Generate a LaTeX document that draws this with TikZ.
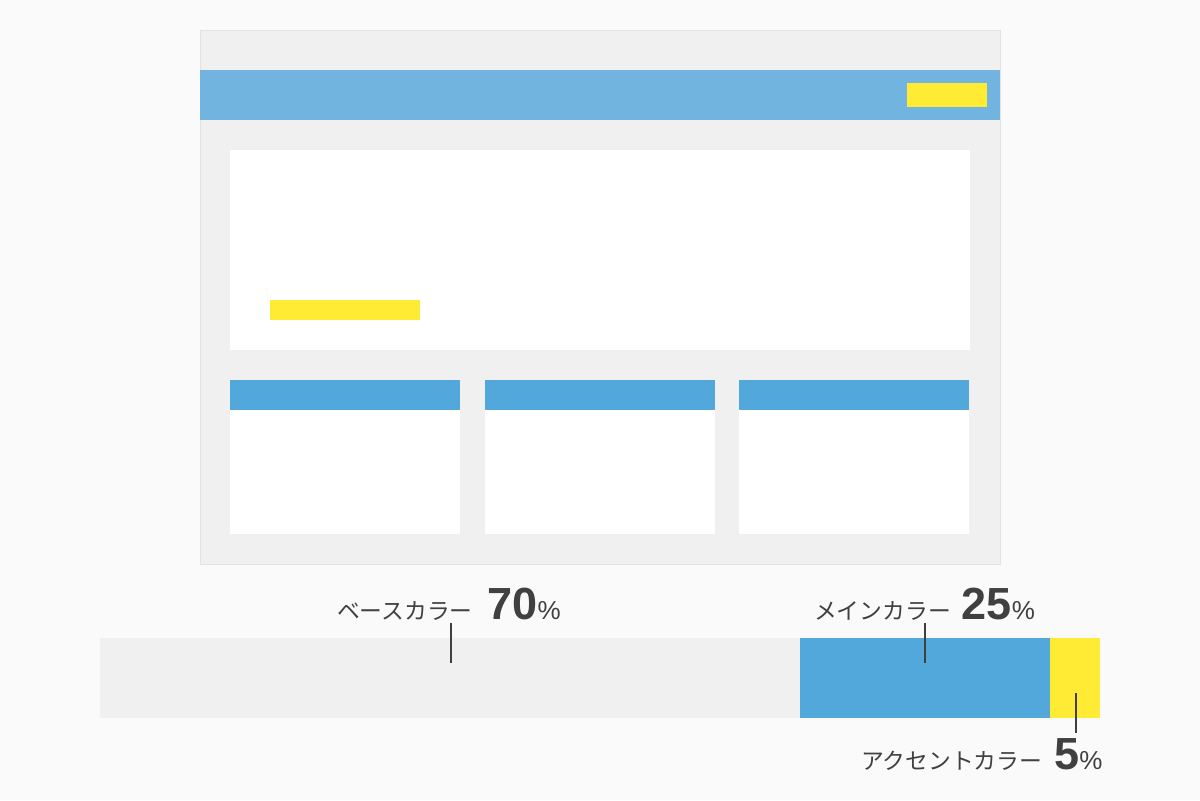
\documentclass[tikz,border=0pt]{standalone}
\usepackage{fontspec}
\newfontfamily\jp{Noto Sans CJK JP}
\newfontfamily\numf{Liberation Sans}
\definecolor{bg}{HTML}{FAFAFA}
\definecolor{basegray}{HTML}{F0F0F0}
\definecolor{framegray}{HTML}{E2E2E2}
\definecolor{headblue}{HTML}{71B4DF}
\definecolor{mainblue}{HTML}{52A7DB}
\definecolor{accent}{HTML}{FFEB33}
\definecolor{txt}{HTML}{404040}
\tikzset{
  box/.style={inner sep=0pt, outer sep=0pt, draw=none, anchor=north west},
  leader/.style={draw=txt, line width=0.55pt},
  lbl/.style={inner sep=0pt, outer sep=0pt, anchor=base west, text=txt},
}
\newcommand{\jlab}[1]{{\jp\fontsize{11.4pt}{13pt}\selectfont #1}}
\newcommand{\pnum}[1]{{\numf\bfseries\fontsize{22.5pt}{26pt}\selectfont #1}{\numf\fontsize{13pt}{15pt}\selectfont\%}}
\begin{document}
\begin{tikzpicture}[x=0.5pt,y=-0.5pt]
\fill[bg] (0,0) rectangle (1200,800);
\useasboundingbox (0,0) rectangle (1200,800);
% browser frame
\node[box, fill=basegray, draw=framegray, line width=0.5pt, minimum width=400pt, minimum height=267pt] (frame) at (200,30) {};
\node[box, fill=headblue, minimum width=400pt, minimum height=25pt] (header) at (200,70) {};
\node[box, fill=accent, minimum width=40pt, minimum height=12pt] (hbtn) at (907,83) {};
\node[box, fill=white, minimum width=370pt, minimum height=100pt] (hero) at (230,150) {};
\node[box, fill=accent, minimum width=75pt, minimum height=10pt] (herobtn) at (270,300) {};
% cards
\foreach \x/\n in {230/c1,485/c2,739/c3}{
  \node[box, fill=white, minimum width=115pt, minimum height=77pt] (\n) at (\x,380) {};
  \node[box, fill=mainblue, minimum width=115pt, minimum height=15pt] (\n h) at (\x,380) {};
}
% ratio bar
\node[box, fill=basegray, minimum width=350pt, minimum height=40pt] (barbase) at (100,638) {};
\node[box, fill=mainblue, minimum width=125pt, minimum height=40pt] (barmain) at (800,638) {};
\node[box, fill=accent, minimum width=25pt, minimum height=40pt] (baracc) at (1050,638) {};
% leaders
\coordinate (l1a) at (451,623); \coordinate (l1b) at (451,663);
\coordinate (l2a) at (925,623); \coordinate (l2b) at (925,663);
\coordinate (l3a) at (1076,693); \coordinate (l3b) at (1076,733);
\draw[leader] (l1a) -- (l1b);
\draw[leader] (l2a) -- (l2b);
\draw[leader] (l3a) -- (l3b);
% labels
\node[lbl] (t1) at (337,619) {\jlab{ベースカラー}\hspace{7.5pt}\pnum{70}};
\node[lbl] (t2) at (814,619) {\jlab{メインカラー}\hspace{5.5pt}\pnum{25}};
\node[lbl] (t3) at (861,769) {\jlab{アクセントカラー}\hspace{6pt}\pnum{5}};
\end{tikzpicture}
\end{document}
